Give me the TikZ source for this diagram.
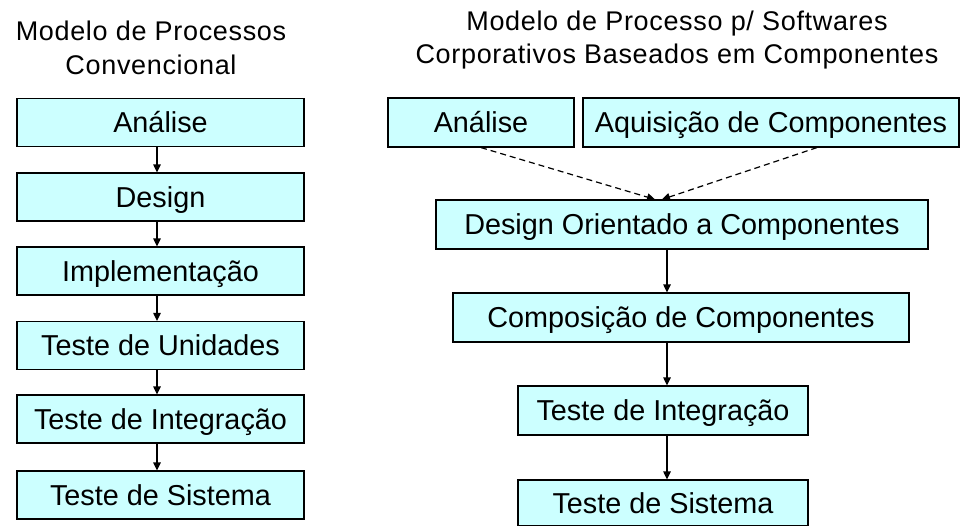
\documentclass[tikz,border=0pt]{standalone}
\usepackage{fontspec}
\setmainfont{Liberation Sans}
\newfontfamily\headfont[LetterSpace=2.5]{Liberation Sans}
\usetikzlibrary{arrows.meta}
\definecolor{boxcyan}{HTML}{CCFFFF}

\begin{document}
\begin{tikzpicture}[x=1pt,y=-1pt,
  stage/.style={draw=black, line width=1.2pt, fill=boxcyan, inner sep=0pt,
    font=\fontsize{28.8}{30}\selectfont, text height=20.5pt, text depth=0pt},
  heading/.style={anchor=base, inner sep=0pt, font=\headfont\fontsize{27}{30}\selectfont},
  flow/.style={-{Triangle[length=8pt,width=7.5pt]}, line width=1.2pt},
  feed/.style={flow, dash pattern=on 6pt off 4pt}
]
\useasboundingbox[fill=white] (0,0) rectangle (964,525);

% headings
\node[heading] (h1a) at (151,40) {Modelo de Processos};
\node[heading] (h1b) at (151,74) {Convencional};
\node[heading] (h2a) at (677,30) {Modelo de Processo p/ Softwares};
\node[heading] (h2b) at (677,63) {Corporativos Baseados em Componentes};

% conventional process
\begin{scope}[every node/.append style={minimum width=287pt, minimum height=48pt}]
\node[stage] (c1) at (160.5,122.5) {Análise};
\node[stage] (c2) at (160.5,197) {Design};
\node[stage] (c3) at (160.5,271) {Implementação};
\node[stage] (c4) at (160.5,345.5) {Teste de Unidades};
\node[stage] (c5) at (160.5,419) {Teste de Integração};
\node[stage] (c6) at (160.5,495) {Teste de Sistema};
\end{scope}

\coordinate (lx) at (157,0);
\draw[flow] (c1.south -| lx) -- (c2.north -| lx);
\draw[flow] (c2.south -| lx) -- (c3.north -| lx);
\draw[flow] (c3.south -| lx) -- (c4.north -| lx);
\draw[flow] (c4.south -| lx) -- (c5.north -| lx);
\draw[flow] (c5.south -| lx) -- (c6.north -| lx);

% component-based process
\node[stage, minimum width=186pt, minimum height=49pt] (ra) at (481,122.5) {Análise};
\node[stage, minimum width=376pt, minimum height=49pt] (rq) at (771,122.5) {Aquisição de Componentes};
\node[stage, minimum width=492pt, minimum height=49pt] (rd) at (682,224.5) {Design Orientado a Componentes};
\node[stage, minimum width=456pt, minimum height=49pt] (rc) at (681,317.5) {Composição de Componentes};
\node[stage, minimum width=290pt, minimum height=49pt] (ri) at (663,410.5) {Teste de Integração};
\node[stage, minimum width=290pt, minimum height=46pt] (rs) at (663,503) {Teste de Sistema};

\draw[feed] (ra.south) -- ([xshift=-27pt]rd.north);
\draw[feed] ([xshift=46pt]rq.south) -- ([xshift=-20pt]rd.north);

\coordinate (rx) at (667,0);
\draw[flow] (rd.south -| rx) -- (rc.north -| rx);
\draw[flow] (rc.south -| rx) -- (ri.north -| rx);
\draw[flow] (ri.south -| rx) -- (rs.north -| rx);
\end{tikzpicture}
\end{document}
